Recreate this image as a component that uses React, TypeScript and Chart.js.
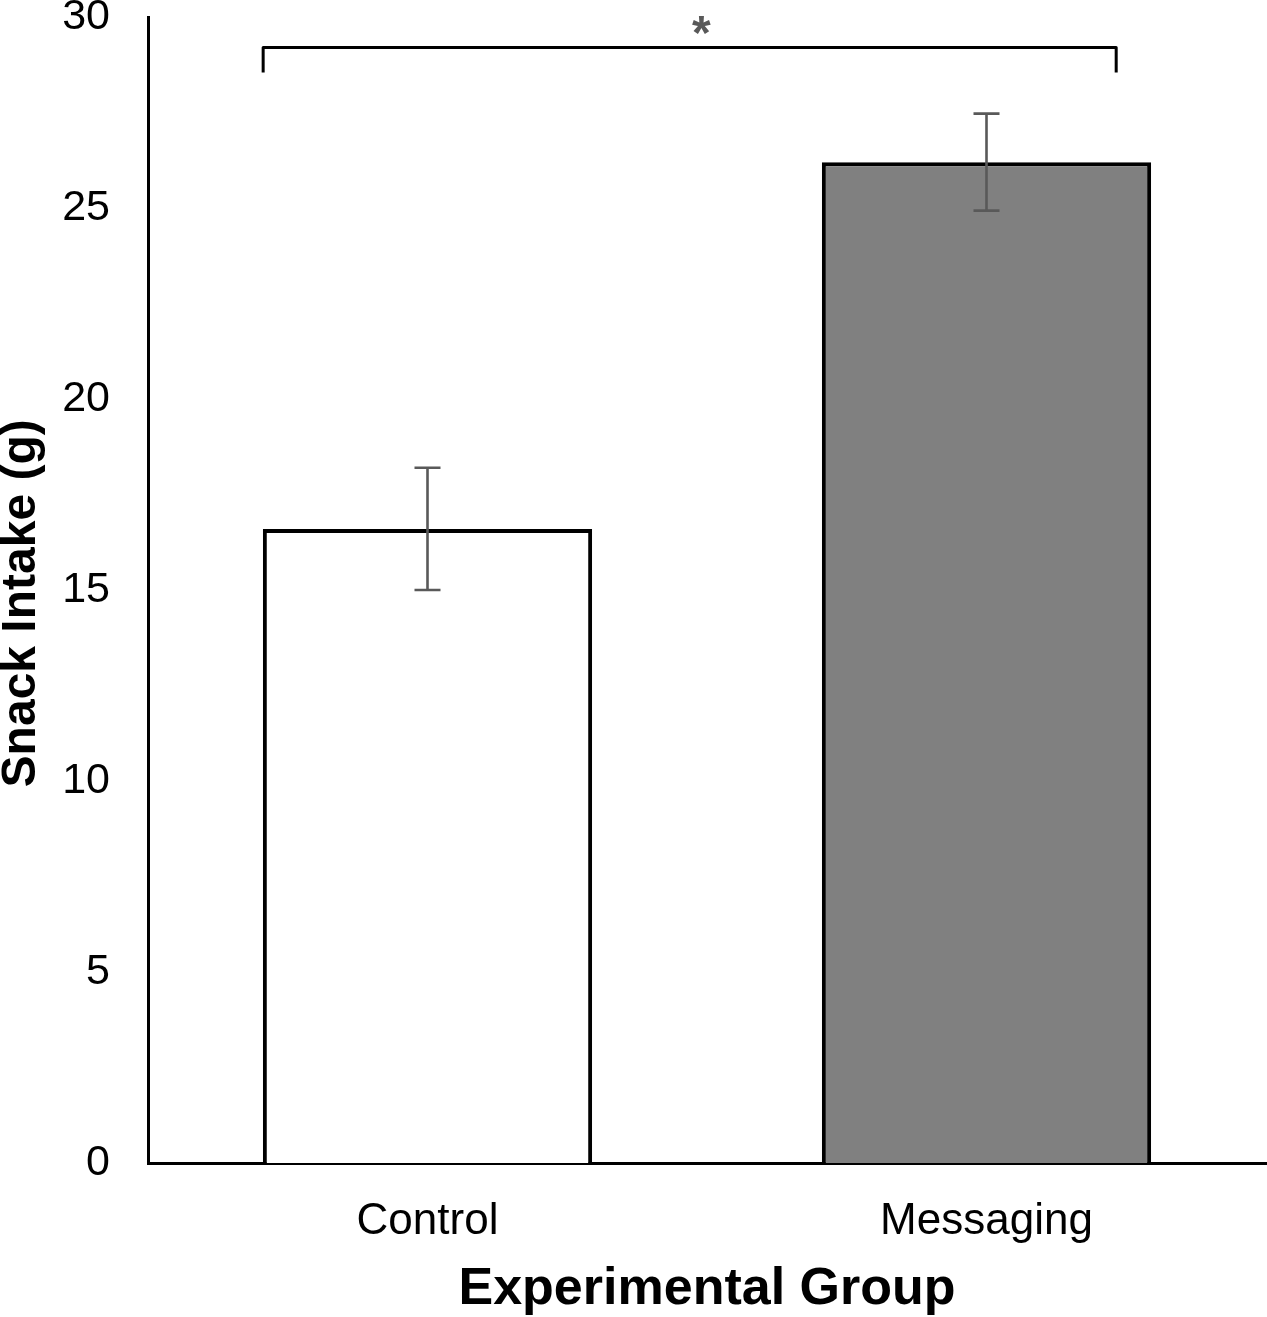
import React, { useEffect, useRef } from "react";
import { Chart, registerables } from "chart.js";

Chart.register(...registerables);

const categories = ["Control", "Messaging"];
const means = [16.6, 26.2];
const errors = [1.6, 1.27];
const barColors = ["#ffffff", "#808080"];
const yTicks = [0, 5, 10, 15, 20, 25, 30];
const bracket = { xStart: -0.294, xEnd: 1.232, yTop: 29.2, yDrop: 28.55, starX: 0.49, starY: 29.17, label: "*" };

const FONT = "'Liberation Sans', Arial, sans-serif";

const annotPlugin = {
  id: "annot",
  afterDatasetsDraw(chart: any) {
    const { ctx } = chart;
    const xs = chart.scales.x;
    const ys = chart.scales.y;
    ctx.save();
    // error bars
    ctx.strokeStyle = "#595959";
    ctx.lineWidth = 2.6;
    means.forEach((m, i) => {
      const x = xs.getPixelForValue(i);
      const yT = ys.getPixelForValue(m + errors[i]);
      const yB = ys.getPixelForValue(m - errors[i]);
      ctx.beginPath();
      ctx.moveTo(x, yT);
      ctx.lineTo(x, yB);
      ctx.moveTo(x - 13, yT);
      ctx.lineTo(x + 13, yT);
      ctx.moveTo(x - 13, yB);
      ctx.lineTo(x + 13, yB);
      ctx.stroke();
    });
    // bracket
    const x1 = xs.getPixelForValue(bracket.xStart);
    const x2 = xs.getPixelForValue(bracket.xEnd);
    const yt = ys.getPixelForValue(bracket.yTop);
    const yd = ys.getPixelForValue(bracket.yDrop);
    ctx.strokeStyle = "#000000";
    ctx.lineWidth = 3;
    ctx.lineJoin = "round";
    ctx.beginPath();
    ctx.moveTo(x1, yd);
    ctx.lineTo(x1, yt);
    ctx.lineTo(x2, yt);
    ctx.lineTo(x2, yd);
    ctx.stroke();
    // star
    ctx.fillStyle = "#595959";
    ctx.font = `bold 48px ${FONT}`;
    ctx.textAlign = "center";
    ctx.textBaseline = "alphabetic";
    ctx.fillText(bracket.label, xs.getPixelForValue(bracket.starX), ys.getPixelForValue(bracket.starY));
    ctx.restore();
  },
};

export default function App() {
  const ref = useRef<HTMLCanvasElement>(null);
  useEffect(() => {
    if (!ref.current) return;
    const chart = new Chart(ref.current, {
      type: "bar",
      data: {
        labels: categories,
        datasets: [
          {
            data: means,
            backgroundColor: barColors,
            borderColor: "#000000",
            borderWidth: 4,
            categoryPercentage: 1,
            barPercentage: 0.589,
          },
        ],
      },
      options: {
        animation: false,
        responsive: false,
        devicePixelRatio: 1,
        layout: { padding: { top: 17, right: 1, left: 0, bottom: 0 } },
        plugins: { legend: { display: false }, tooltip: { enabled: false } },
        scales: {
          x: {
            grid: { display: false, drawTicks: false },
            border: { display: true, color: "#000000", width: 3 },
            ticks: { color: "#000000", font: { family: FONT, size: 44 }, padding: 32 },
            title: {
              display: true,
              text: "Experimental Group",
              color: "#000000",
              font: { family: FONT, size: 52, weight: "bold", lineHeight: 1 },
              padding: { top: 0, bottom: 1 },
            },
            afterFit: (s: any) => {
              s.height = 154;
              s.paddingLeft = 0;
              s.paddingRight = 0;
            },
          },
          y: {
            min: 0,
            max: 30,
            afterBuildTicks: (s: any) => {
              s.ticks = yTicks.map((v) => ({ value: v }));
            },
            grid: { display: false, drawTicks: false },
            border: { display: true, color: "#000000", width: 3 },
            ticks: { color: "#000000", font: { family: FONT, size: 43 }, padding: 38 },
            title: {
              display: true,
              text: "Snack Intake (g)  ",
              color: "#000000",
              font: { family: FONT, size: 48, weight: "bold", lineHeight: 0.92 },
              padding: { top: 0, bottom: 0 },
            },
            afterFit: (s: any) => {
              s.width = 148;
              s.paddingTop = 0;
              s.paddingBottom = 0;
            },
          },
        },
      },
      plugins: [annotPlugin],
    });
    return () => chart.destroy();
  }, []);
  return (
    <div style={{ position: "fixed", left: 0, top: 0, width: 1267, height: 1317, background: "#fff" }}>
      <canvas ref={ref} width={1267} height={1317} />
    </div>
  );
}
